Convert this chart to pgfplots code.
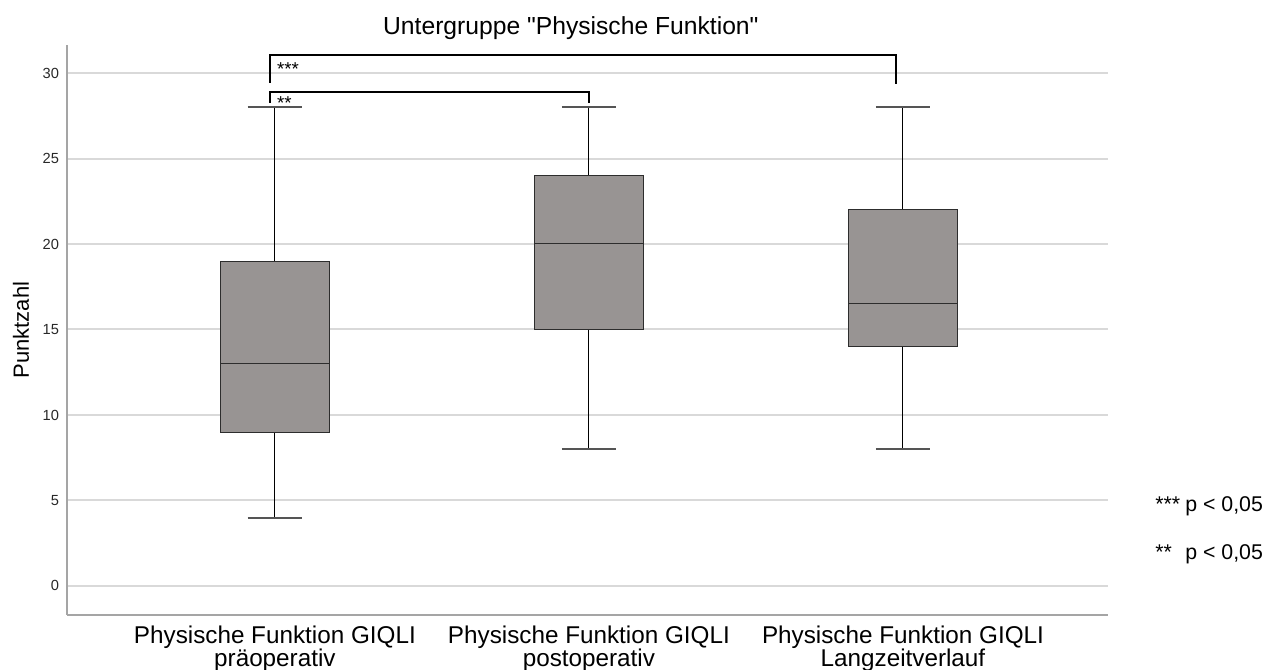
\documentclass[border=0pt]{standalone}
\usepackage{fontspec}
\setmainfont{Liberation Sans}[Ligatures=TeXOff]
\usepackage{pgfplots}
\pgfplotsset{compat=1.18}
\usepgfplotslibrary{statistics}
\definecolor{boxfill}{RGB}{152,148,147}
\definecolor{boxdraw}{RGB}{45,45,45}
\definecolor{gridc}{RGB}{217,217,217}
\definecolor{axisc}{RGB}{165,165,165}
\definecolor{capc}{RGB}{85,85,85}
\definecolor{tickc}{RGB}{40,40,40}
\begin{document}
\begin{tikzpicture}
\path[use as bounding box] (-50.25pt,-41.25pt) rectangle (909.75pt,461.25pt);
\begin{axis}[
  scale only axis, width=780.75pt, height=427.5pt,
  xmin=-0.662, xmax=2.653, ymin=-1.7, ymax=31.64,
  axis x line*=bottom, axis y line*=left,
  axis line style={draw=axisc, line width=1.5pt},
  tick style={draw=none},
  ytick={0,5,10,15,20,25,30},
  ymajorgrids,
  major grid style={draw=gridc, line width=1.5pt},
  xtick={0,1,2},
  xticklabels={{Physische Funktion GIQLI\\präoperativ},{Physische Funktion GIQLI\\postoperativ},{Physische Funktion GIQLI\\Langzeitverlauf}},
  xticklabel style={align=center, font=\fontsize{18.2}{17.25}\selectfont, text=black, yshift=-4.5pt},
  yticklabel style={font=\fontsize{11}{11}\selectfont, text=tickc, xshift=-2.5pt},
  /pgf/number format/assume math mode=true,
  ylabel={Punktzahl},
  ylabel style={font=\fontsize{16.5}{16.5}\selectfont, at={(axis description cs:0,0.5)}, anchor=center, yshift=34.5pt},
  title={Untergruppe "Physische Funktion"},
  title style={font=\fontsize{18.5}{18.5}\selectfont, at={(axis description cs:0.484,1)}, anchor=base, yshift=1.5pt},
  clip=false,
  boxplot/draw direction=y,
  boxplot/box extend=0.346,
  boxplot/every box/.style={draw=boxdraw, fill=boxfill, line width=0.75pt},
  boxplot/every median/.style={draw=boxdraw, line width=0.75pt},
  boxplot/every whisker/.style={draw=black, line width=0.75pt},
  boxplot/draw/lower whisker/.code={
    \draw[/pgfplots/boxplot/every whisker/.try] (boxplot box cs:\pgfplotsboxplotvalue{lower quartile},0.5) -- (boxplot box cs:\pgfplotsboxplotvalue{lower whisker},0.5);
    \draw[capc, line width=1.5pt] (boxplot box cs:\pgfplotsboxplotvalue{lower whisker},0.25) -- (boxplot box cs:\pgfplotsboxplotvalue{lower whisker},0.75);
  },
  boxplot/draw/upper whisker/.code={
    \draw[/pgfplots/boxplot/every whisker/.try] (boxplot box cs:\pgfplotsboxplotvalue{upper quartile},0.5) -- (boxplot box cs:\pgfplotsboxplotvalue{upper whisker},0.5);
    \draw[capc, line width=1.5pt] (boxplot box cs:\pgfplotsboxplotvalue{upper whisker},0.25) -- (boxplot box cs:\pgfplotsboxplotvalue{upper whisker},0.75);
  },
]
\addplot[boxplot prepared={draw position=0, lower whisker=4, lower quartile=9, median=13, upper quartile=19, upper whisker=28}] coordinates {};
\addplot[boxplot prepared={draw position=1, lower whisker=8, lower quartile=15, median=20, upper quartile=24, upper whisker=28}] coordinates {};
\addplot[boxplot prepared={draw position=2, lower whisker=8, lower quartile=14, median=16.5, upper quartile=22, upper whisker=28}] coordinates {};
% significance brackets
\draw[black, line width=1.5pt] (axis cs:-0.016,29.42) -- (axis cs:-0.016,31.05) -- (axis cs:1.978,31.05) -- (axis cs:1.978,29.36);
\draw[black, line width=1.5pt] (axis cs:-0.016,28.25) -- (axis cs:-0.016,28.89) -- (axis cs:1.0,28.89) -- (axis cs:1.0,28.25);
\node[anchor=north west, inner sep=0pt, font=\fontsize{14}{14}\selectfont] at (axis cs:0.006,30.64) {***};
\node[anchor=north west, inner sep=0pt, font=\fontsize{14}{14}\selectfont] at (axis cs:0.006,28.65) {**};
\end{axis}
\node[anchor=base west, inner sep=0pt, font=\fontsize{16}{16}\selectfont] at (816pt,77.25pt) {***};
\node[anchor=base west, inner sep=0pt, font=\fontsize{16}{16}\selectfont] at (838.5pt,77.25pt) {p < 0,05};
\node[anchor=base west, inner sep=0pt, font=\fontsize{16}{16}\selectfont] at (816pt,41.25pt) {**};
\node[anchor=base west, inner sep=0pt, font=\fontsize{16}{16}\selectfont] at (838.5pt,41.25pt) {p < 0,05};
\end{tikzpicture}
\end{document}
